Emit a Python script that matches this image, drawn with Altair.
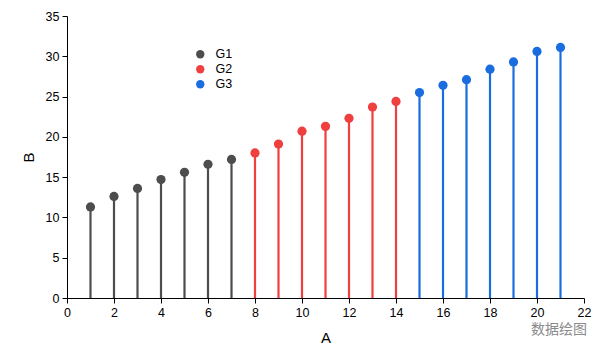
import altair as alt
import pandas as pd

a_vals = list(range(1, 22))
b_vals = [11.3, 12.6, 13.6, 14.7, 15.6, 16.6, 17.2,
          18.0, 19.1, 20.7, 21.3, 22.3, 23.7, 24.4,
          25.5, 26.4, 27.1, 28.4, 29.3, 30.6, 31.1]
groups = ["G1"] * 7 + ["G2"] * 7 + ["G3"] * 7
group_names = ["G1", "G2", "G3"]
group_colors = ["#4d4d4d", "#ef3f3f", "#1a6ddf"]
x_ticks = list(range(0, 23))
y_ticks = [i * 2.5 for i in range(15)]

df = pd.DataFrame({"A": a_vals, "B": b_vals, "G": groups})

FONT = "Liberation Sans"

xs = alt.Scale(domain=[0, 22], nice=False, zero=False)
ys = alt.Scale(domain=[0, 35], nice=False)
cs = alt.Scale(domain=group_names, range=group_colors)

x_axis = alt.Axis(
    values=x_ticks,
    labelExpr="datum.value % 2 === 0 ? datum.label : ''",
    tickSize={"condition": {"test": "datum.value % 2 !== 0", "value": 3}, "value": 5},
    grid=False, domainColor="black", tickColor="black", labelColor="black",
    labelFont=FONT, labelFontSize=12.5, labelPadding=3,
    title="A", titleFont=FONT, titleFontSize=15, titleFontWeight="normal",
    titleColor="black", titlePadding=12, labelFlush=False,
)
y_axis = alt.Axis(
    values=y_ticks,
    labelExpr="datum.value % 5 === 0 ? datum.label : ''",
    tickSize={"condition": {"test": "datum.value % 5 !== 0", "value": 3}, "value": 5},
    grid=False, domainColor="black", tickColor="black", labelColor="black",
    labelFont=FONT, labelFontSize=12.5, labelPadding=3,
    title="B", titleFont=FONT, titleFontSize=15, titleFontWeight="normal",
    titleColor="black", titlePadding=9,
)

legend = alt.Legend(
    title=None, orient="none", legendX=127, legendY=32,
    symbolType="circle", symbolSize=70, symbolOpacity=1, symbolStrokeWidth=0,
    labelFont=FONT, labelFontSize=12.5, labelColor="black",
    rowPadding=2, padding=0, labelOffset=9,
)

base = alt.Chart(df)

stems = base.mark_rule(strokeWidth=2.2).encode(
    x=alt.X("A:Q", scale=xs, axis=x_axis),
    y=alt.Y("B:Q", scale=ys, axis=y_axis),
    y2=alt.datum(0),
    color=alt.Color("G:N", scale=cs, legend=legend),
)

dots = base.mark_circle(size=85, opacity=1).encode(
    x=alt.X("A:Q", scale=xs),
    y=alt.Y("B:Q", scale=ys),
    color=alt.Color("G:N", scale=cs, legend=legend),
)

mark_text = alt.Chart(pd.DataFrame({"t": ["数据绘图"]})).mark_text(
    font="Noto Sans CJK SC", fontSize=14, color="#8a8a8a", align="left", baseline="middle"
).encode(x=alt.value(464), y=alt.value(314), text="t:N")

chart = alt.layer(stems, dots, mark_text).properties(
    width=517, height=282,
    padding={"left": 59, "top": 8, "right": 16, "bottom": 50},
    autosize=alt.AutoSizeParams(type="none"),
).configure_view(stroke=None)

chart.save("out.html", embed_options={"renderer": "svg", "actions": False})
